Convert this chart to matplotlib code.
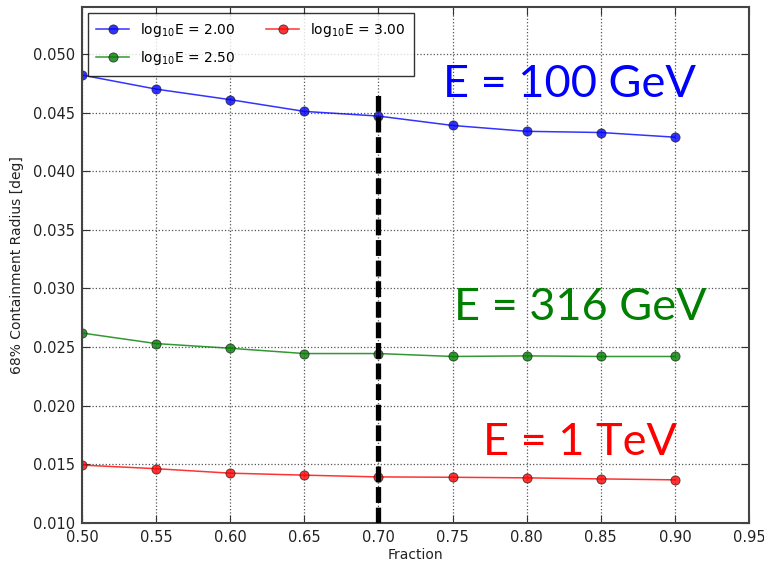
import matplotlib
matplotlib.use("Agg")
import matplotlib.pyplot as plt

fraction = [0.50, 0.55, 0.60, 0.65, 0.70, 0.75, 0.80, 0.85, 0.90]
r68_e200 = [0.0482, 0.0470, 0.0461, 0.0451, 0.0447, 0.0439, 0.0434, 0.0433, 0.0429]
r68_e250 = [0.0262, 0.0253, 0.0249, 0.02445, 0.02445, 0.0242, 0.02425, 0.0242, 0.0242]
r68_e300 = [0.01494, 0.01463, 0.01425, 0.01408, 0.01393, 0.0139, 0.01385, 0.01376, 0.01368]
series_labels = [r"log$_{10}$E = 2.00", r"log$_{10}$E = 2.50", r"log$_{10}$E = 3.00"]
series_colors = ["#0000ff", "#007f00", "#ff0000"]
energy_labels = ["E = 100 GeV", "E = 316 GeV", "E = 1 TeV"]
energy_label_pos = [(0.829, 0.0474), (0.836, 0.0284), (0.836, 0.0169)]
chosen_fraction = 0.70
chosen_top = 0.0467

x_ticks = [0.50, 0.55, 0.60, 0.65, 0.70, 0.75, 0.80, 0.85, 0.90, 0.95]
y_ticks = [0.010, 0.015, 0.020, 0.025, 0.030, 0.035, 0.040, 0.045, 0.050]

plt.rcParams["font.family"] = ["DejaVu Sans"]
fig = plt.figure(figsize=(7.64, 5.62), dpi=100, facecolor="white")
ax = fig.add_axes([0.1073, 0.0694, 0.8731, 0.9181])

for vals, lab, col in zip([r68_e200, r68_e250, r68_e300], series_labels, series_colors):
    ax.plot(fraction, vals, color=col, lw=1.1, alpha=0.8, marker="o",
            markersize=6.6, markerfacecolor=col, markeredgecolor="#202020",
            markeredgewidth=0.6, label=lab)

ax.plot([chosen_fraction, chosen_fraction], [0.010, chosen_top], color="black",
        lw=3.8, dashes=(3.0, 0.9), solid_capstyle="butt", dash_capstyle="butt",
        zorder=5)

for txt, (tx, ty), col in zip(energy_labels, energy_label_pos, series_colors):
    ax.text(tx, ty, txt, color=col, fontsize=32.5, family="Lato",
            ha="center", va="center", zorder=6)

ax.set_xlim(0.50, 0.95)
ax.set_ylim(0.010, 0.054)
ax.set_xticks(x_ticks)
ax.set_yticks(y_ticks)
ax.set_xticklabels([f"{v:.2f}" for v in x_ticks])
ax.set_yticklabels([f"{v:.3f}" for v in y_ticks])
ax.tick_params(direction="in", top=True, right=True, length=6, width=0.8,
               labelsize=10.5, colors="#333333", labelcolor="#222222", pad=5)
ax.grid(True, linestyle=":", color="#555555", lw=0.9)
ax.set_axisbelow(True)
for sp in ax.spines.values():
    sp.set_color("#444444")
    sp.set_linewidth(1.5)

ax.set_xlabel("Fraction", fontsize=10, color="#222222", labelpad=2)
ax.set_ylabel("68% Containment Radius [deg]", fontsize=10, color="#222222", labelpad=6)

leg = ax.legend(loc="upper left", ncol=2, fontsize=10, frameon=True, fancybox=False,
                edgecolor="black", borderaxespad=0.4, handlelength=2.4,
                handletextpad=0.8, columnspacing=2.2, numpoints=1,
                borderpad=0.6, labelspacing=0.75)
leg.get_frame().set_linewidth(1.0)
leg.set_zorder(10)

fig.savefig("out.png", dpi=100, facecolor="white")
